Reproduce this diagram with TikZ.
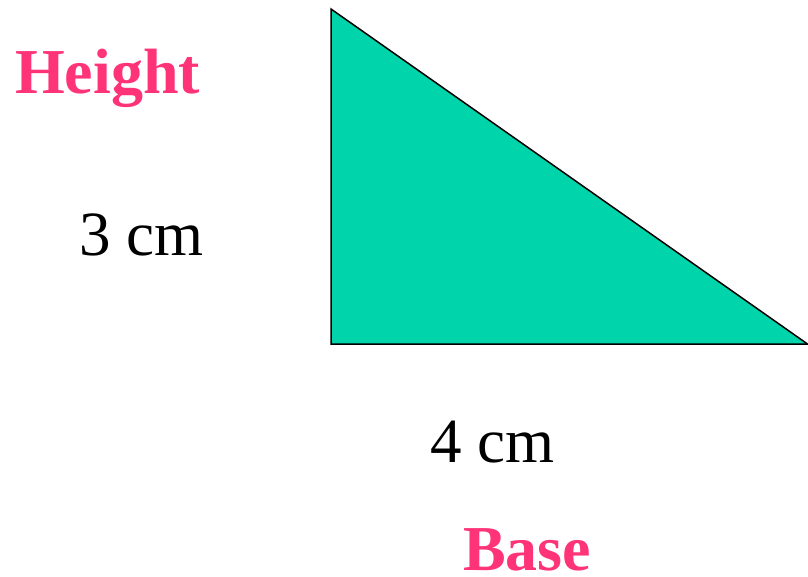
\documentclass[tikz,border=0pt]{standalone}
\usepackage{fontspec}
\setmainfont{Liberation Serif}
\definecolor{tri}{HTML}{00D4AA}
\definecolor{pinklbl}{HTML}{FF3377}
\begin{document}
\begin{tikzpicture}[x=1pt,y=-1pt,
  lbl/.style={inner sep=0pt,anchor=base west,font=\fontsize{63}{63}\selectfont},
  title/.style={lbl,text=pinklbl,font=\fontsize{64}{64}\selectfont\bfseries}]
\useasboundingbox (0,0) rectangle (808,577);
\coordinate (A) at (331,9);
\coordinate (B) at (331,344);
\coordinate (C) at (807.5,344);
\fill[tri] (A) -- (B) -- (C) -- cycle;
\draw[line width=1.5pt,line join=miter] (A) -- (B) -- (C) -- cycle;
\node[title] (h) at (15,94) {Height};
\node[lbl] (w) at (79,256) {3 cm};
\node[lbl] (l) at (430,462) {4 cm};
\node[title,text depth=0pt] (b) at (463,570) {Base};
\end{tikzpicture}
\end{document}
